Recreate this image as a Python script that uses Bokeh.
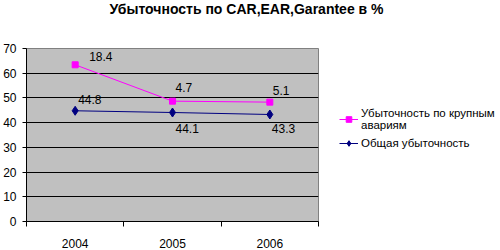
from bokeh.plotting import figure
from bokeh.models import FixedTicker, Legend, LegendItem, ColumnDataSource, Range1d
from bokeh.layouts import row, column
from bokeh.core.properties import value
from bokeh.embed import file_html
from bokeh.resources import INLINE

years = ["2004", "2005", "2006"]
large_loss = [63.4, 48.7, 48.3]
large_labels = ["18.4", "4.7", "5.1"]
total_loss = [44.8, 44.1, 43.3]
total_labels = ["44.8", "44.1", "43.3"]
y_ticks = [0, 10, 20, 30, 40, 50, 60, 70]

title_text = "Убыточность по CAR,EAR,Garantee в %"
name_large = "Убыточность по крупным\nавариям"
name_total = "Общая убыточность"

# label offsets (style only)
large_dx = [14, 3, 3]
large_dy = [-8, -14, -12]
total_dx = [3, 3, 2]
total_dy = [-11, 16, 14]

FONT = "Liberation Sans"
MAGENTA = "#FF00FF"
NAVY = "#000080"
xs = [i + 0.5 for i in range(len(years))]

# ---- title strip ----
pt = figure(width=500, height=30, output_backend="svg", toolbar_location=None,
            x_range=Range1d(0, 500), y_range=Range1d(0, 30), min_border=0,
            x_axis_location=None, y_axis_location=None)
pt.outline_line_color = None
pt.grid.grid_line_color = None
pt.text(x=[246], y=[22], text=[title_text], text_font=value(FONT), text_font_size="14px",
        text_font_style="bold", text_color="black", text_align="center", text_baseline="middle")

# ---- main chart ----
p = figure(width=320, height=220, output_backend="svg", toolbar_location=None,
           x_range=Range1d(0, len(years)), y_range=Range1d(0, 70),
           min_border_left=25, min_border_right=2, min_border_top=18, min_border_bottom=26)
p.background_fill_color = "#C0C0C0"
p.border_fill_color = "white"
p.outline_line_color = "#808080"
p.outline_line_width = 1

p.xgrid.grid_line_color = None
p.ygrid.grid_line_color = "black"
p.ygrid.grid_line_width = 1
p.ygrid.ticker = FixedTicker(ticks=y_ticks)

p.xaxis.ticker = FixedTicker(ticks=xs, minor_ticks=list(range(len(years) + 1)))
p.xaxis.major_label_overrides = {x: y for x, y in zip(xs, years)}
p.xaxis.major_tick_out = 0
p.xaxis.major_tick_in = 0
p.xaxis.minor_tick_out = 5
p.xaxis.minor_tick_in = 0
p.xaxis.minor_tick_line_color = "black"
p.xaxis.major_label_standoff = 12
p.xaxis.axis_line_color = "black"

p.yaxis.ticker = FixedTicker(ticks=y_ticks)
p.yaxis.major_tick_out = 4
p.yaxis.major_tick_in = 0
p.yaxis.minor_tick_line_color = None
p.yaxis.major_label_standoff = 6
p.yaxis.axis_line_color = "black"

for ax in (p.xaxis, p.yaxis):
    ax.major_label_text_font = FONT
    ax.major_label_text_font_size = "12px"
    ax.major_label_text_color = "black"

src_l = ColumnDataSource(dict(x=xs, y=large_loss, t=large_labels, dx=large_dx, dy=large_dy))
src_t = ColumnDataSource(dict(x=xs, y=total_loss, t=total_labels, dx=total_dx, dy=total_dy))

p.line("x", "y", source=src_l, line_color=MAGENTA, line_width=1)
p.scatter("x", "y", source=src_l, marker="square", size=6, fill_color=MAGENTA, line_color=MAGENTA)
p.line("x", "y", source=src_t, line_color=NAVY, line_width=1)
p.scatter("x", "y", source=src_t, marker="diamond", size=9, fill_color=NAVY, line_color=NAVY)

for src in (src_l, src_t):
    p.text("x", "y", text="t", source=src, x_offset="dx", y_offset="dy",
           text_font=value(FONT), text_font_size="12px", text_color="black",
           text_align="left", text_baseline="middle")

# ---- legend panel (series drawn out of its view, used only for the legend keys) ----
pl = figure(width=180, height=220, output_backend="svg", toolbar_location=None,
            x_range=Range1d(-10, -9), y_range=Range1d(-10, -9), min_border=0,
            x_axis_location=None, y_axis_location=None)
pl.outline_line_color = None
pl.grid.grid_line_color = None
g1 = pl.line("x", "y", source=src_l, line_color=MAGENTA, line_width=1)
m1 = pl.scatter("x", "y", source=src_l, marker="square", size=6,
                fill_color=MAGENTA, line_color=MAGENTA)
g2 = pl.line("x", "y", source=src_t, line_color=NAVY, line_width=1)
m2 = pl.scatter("x", "y", source=src_t, marker="diamond", size=9,
                fill_color=NAVY, line_color=NAVY)

legend = Legend(items=[LegendItem(label=name_large, renderers=[g1, m1]),
                       LegendItem(label=name_total, renderers=[g2, m2])],
                location=(19, 71), padding=0, margin=0, spacing=5,
                glyph_width=19, glyph_height=14, label_standoff=3,
                label_text_font=FONT, label_text_font_size="11.5px",
                label_text_color="black",
                border_line_color=None, background_fill_alpha=0)
pl.add_layout(legend, "center")

layout = column(pt, row(p, pl, spacing=0), spacing=0)
open("out.html", "w").write(file_html(layout, INLINE))
